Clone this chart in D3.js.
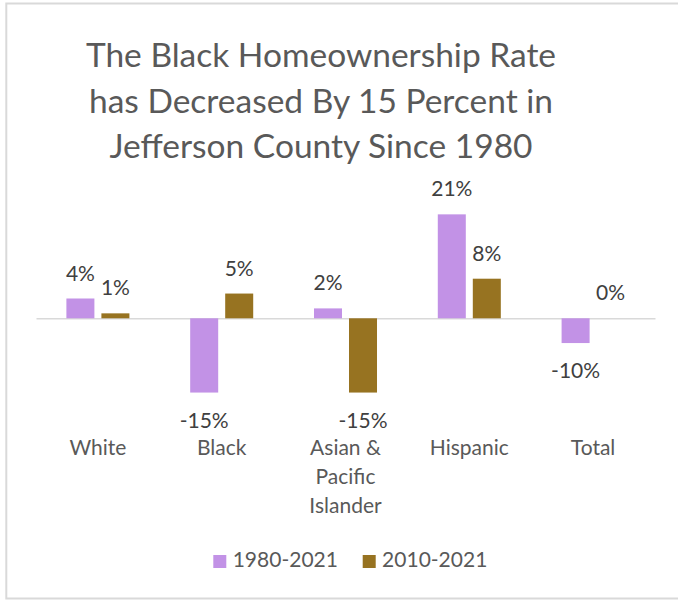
<!DOCTYPE html>
<html>
<head>
<meta charset="utf-8">
<script src="https://cdn.jsdelivr.net/npm/d3@7"></script>
<style>
  html, body { margin: 0; padding: 0; background: #ffffff; }
  svg { display: block; font-family: Lato, "Open Sans", sans-serif; }
</style>
</head>
<body>
<svg id="chart" width="678" height="600"></svg>
<script>
// ---- data ----
const titleLines = ["The Black Homeownership Rate", "has Decreased By 15 Percent in", "Jefferson County Since 1980"];
const categories = ["White", "Black", "Asian & Pacific Islander", "Hispanic", "Total"];
const seriesNames = ["1980-2021", "2010-2021"];
const values1980 = [4, -15, 2, 21, -5];
const values2010 = [1, 5, -15, 8, 0];
const labels1980 = ["4%", "-15%", "2%", "21%", "-10%"];
const labels2010 = ["1%", "5%", "-15%", "8%", "0%"];
const colors = ["#c292e6", "#977321"];

// ---- layout ----
const svg = d3.select("#chart");

// frame
svg.append("rect")
  .attr("x", 6.3).attr("y", 3.5).attr("width", 720).attr("height", 595)
  .attr("fill", "none").attr("stroke", "#d9d9d9").attr("stroke-width", 2);

// title
const title = svg.append("text")
  .attr("text-anchor", "middle")
  .attr("fill", "#595959")
  .style("font-size", "33.5px");
title.selectAll("tspan").data(titleLines).join("tspan")
  .attr("x", 321)
  .attr("y", (d, i) => 67.3 + i * 45.5)
  .text(d => d);

const x0 = d3.scaleBand().domain(categories).range([36, 655]).paddingInner(0.491).paddingOuter(0.2455);
const x1 = d3.scaleBand().domain(seriesNames).range([0, x0.bandwidth()]).paddingInner(0.2);
const y = d3.scaleLinear().domain([-20, 25]).range([318.3 + 20 * 4.95, 318.3 - 25 * 4.95]);

const rows = categories.map((c, i) => ({
  cat: c,
  items: [
    { s: seriesNames[0], v: values1980[i], l: labels1980[i], c: colors[0] },
    { s: seriesNames[1], v: values2010[i], l: labels2010[i], c: colors[1] }
  ]
}));

// zero line (category axis)
const xAxis = d3.axisBottom(x0).tickSize(0).tickFormat("");
const axG = svg.append("g").attr("transform", `translate(0,${y(0)})`).call(xAxis);
axG.select(".domain").attr("stroke", "#d9d9d9").attr("stroke-width", 1.5);

// bars
const groups = svg.append("g").selectAll("g").data(rows).join("g")
  .attr("transform", d => `translate(${x0(d.cat)},0)`);

groups.selectAll("rect").data(d => d.items).join("rect")
  .attr("x", d => x1(d.s))
  .attr("width", x1.bandwidth())
  .attr("y", d => y(Math.max(0, d.v)))
  .attr("height", d => Math.abs(y(d.v) - y(0)))
  .attr("fill", d => d.c);

// data labels
groups.selectAll("text").data(d => d.items).join("text")
  .attr("x", d => x1(d.s) + x1.bandwidth() / 2)
  .attr("y", d => d.v >= 0 ? y(d.v) - 18 : y(d.v) + 35)
  .attr("text-anchor", "middle")
  .attr("fill", "#404040")
  .style("font-size", "21px")
  .text(d => d.l);

// category labels with wrapping
const catG = svg.append("g");
categories.forEach(c => {
  const t = catG.append("text")
    .attr("text-anchor", "middle")
    .attr("fill", "#595959")
    .style("font-size", "21px");
  const cx = x0(c) + x0.bandwidth() / 2;
  const words = c.split(" ");
  let lines = [];
  let cur = [];
  const probe = svg.append("text").style("font-size", "21px");
  words.forEach(w => {
    const test = cur.concat([w]).join(" ");
    probe.text(test);
    if (cur.length && probe.node().getComputedTextLength() > 105) {
      lines.push(cur.join(" "));
      cur = [w];
    } else {
      cur.push(w);
    }
  });
  if (cur.length) lines.push(cur.join(" "));
  probe.remove();
  lines.forEach((ln, i) => {
    t.append("tspan").attr("x", cx).attr("y", 455 + i * 29).text(ln);
  });
});

// legend
const legendX = [213.3, 362.7];
const leg = svg.append("g");
seriesNames.forEach((s, i) => {
  leg.append("rect")
    .attr("x", legendX[i]).attr("y", 555).attr("width", 13).attr("height", 13)
    .attr("fill", colors[i]);
  leg.append("text")
    .attr("x", legendX[i] + 19.4).attr("y", 566.7)
    .attr("fill", "#595959")
    .style("font-size", "21px")
    .text(s);
});
</script>
</body>
</html>
